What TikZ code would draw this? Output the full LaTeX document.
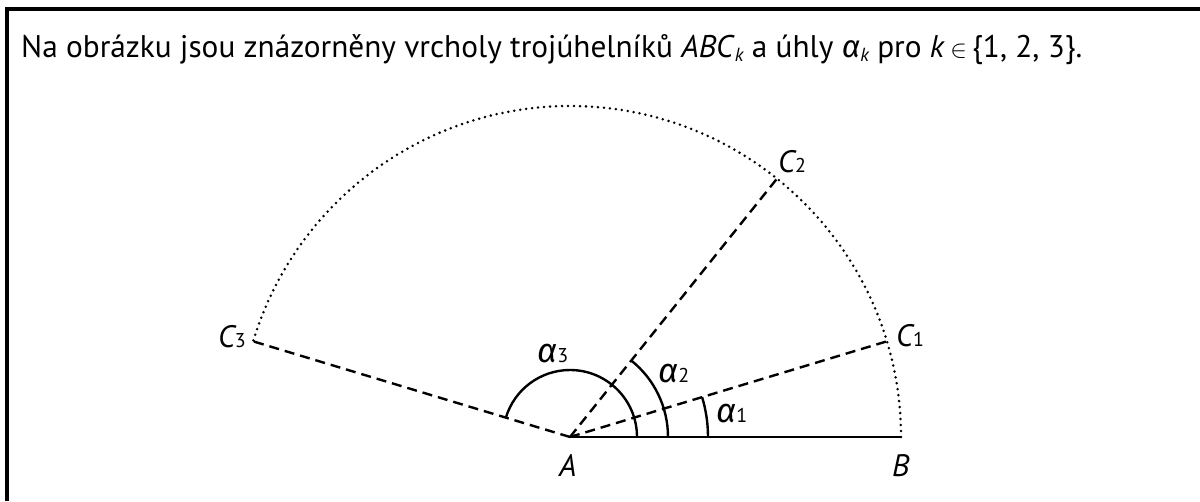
\documentclass[tikz,border=0pt]{standalone}
\usepackage{fontspec}
\setmainfont{PT Sans}
\newfontfamily\greekfont{Fira Sans}
\usetikzlibrary{calc}
\newcommand\sbsc[1]{{\fontsize{20}{20}\selectfont\upshape #1}}
\newcommand\sbsk[1]{\raisebox{-0.12em}{\fontsize{19}{19}\selectfont\itshape #1}}
\newcommand\alp{{\greekfont\itshape α}}
\newcommand\alpl{{\greekfont\fontsize{34}{36}\selectfont\itshape α}}
\begin{document}
\begin{tikzpicture}[x=1pt,y=1pt,
  dashline/.style={line width=2.4pt, dash pattern=on 10pt off 6pt},
  dotline/.style={line width=2.8pt, line cap=round, dash pattern=on 0pt off 6pt},
  solidline/.style={line width=2.4pt},
  anglearc/.style={line width=2.4pt},
  lbl/.style={font=\fontsize{31}{34}\selectfont\itshape, inner sep=0pt, anchor=base west},
  titletext/.style={font=\fontsize{31.3}{36}\selectfont, inner sep=0pt, anchor=base west},
  frame/.style={line width=4pt, line join=miter}]
\useasboundingbox (0,0) rectangle (1200,501);
\draw[frame] (7,0) -- (7,492) -- (1202,492);
\node[titletext] (title) at (21,443) {Na obrázku jsou znázorněny vrcholy trojúhelníků \textit{ABC}\sbsk{k} a úhly \alp\sbsk{k} pro \textit{k}\,$\in$\,\{1, 2, 3\}.};
\coordinate (A) at (570,64);
\coordinate (B) at ($(A)+(0:331)$);
\coordinate (C1) at ($(A)+(16.8:331)$);
\coordinate (C2) at ($(A)+(51.3:331)$);
\coordinate (C3) at ($(A)+(163.2:331)$);
\draw[dotline] (B) arc[start angle=0, end angle=163.2, radius=331];
\draw[solidline] (A) -- (B);
\draw[dashline] (A) -- (C1);
\draw[dashline] (A) -- (C2);
\draw[dashline] (A) -- (C3);
\coordinate (R1) at ($(A)+(138,0)$);
\coordinate (R2) at ($(A)+(98,0)$);
\coordinate (R3) at ($(A)+(67,0)$);
\draw[anglearc] (R1) arc[start angle=0, end angle=16.8, radius=138];
\draw[anglearc] (R2) arc[start angle=0, end angle=51.3, radius=98];
\draw[anglearc] (R3) arc[start angle=0, end angle=163.2, radius=67];
\node[lbl] (lA) at (559,25) {A};
\node[lbl] (lB) at (892,25) {B};
\node[lbl] (lC1) at (896,154) {C\sbsc{1}};
\node[lbl] (lC2) at (778,328) {C\sbsc{2}};
\node[lbl, anchor=base east] (lC3) at (246,153) {C\sbsc{3}};
\node[lbl] (la1) at (716,78) {\alpl\sbsc{1}};
\node[lbl] (la2) at (658,118) {\alpl\sbsc{2}};
\node[lbl] (la3) at (537,138) {\alpl\sbsc{3}};
\end{tikzpicture}
\end{document}
